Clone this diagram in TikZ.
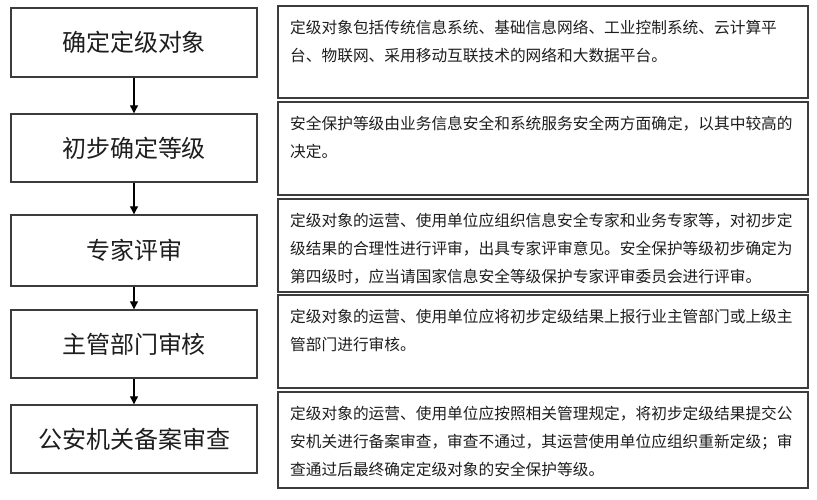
\documentclass[tikz,border=0pt]{standalone}
\usepackage{fontspec}
\newfontfamily\cjk{Noto Sans CJK SC}
\usetikzlibrary{arrows.meta}
\definecolor{boxline}{RGB}{60,60,60}
\definecolor{txt}{RGB}{30,30,30}
\begin{document}
\begin{tikzpicture}[x=1pt,y=-1pt,
  stepbox/.style={draw=boxline,line width=1.4pt,rectangle,minimum width=246pt,inner sep=0pt,
     font=\cjk\fontsize{24}{28}\selectfont,text=txt},
  descbox/.style={draw=boxline,line width=1.6pt,rectangle,minimum width=530pt,inner sep=0pt},
  desctext/.style={anchor=north west,inner sep=0pt,align=left,text=txt,
     font=\cjk\fontsize{15.7}{28}\selectfont},
  flow/.style={draw=black,line width=1.1pt,-{Triangle[width=8pt,length=8pt]}}]
\useasboundingbox (0,0) rectangle (817,500);
\fill[white] (0,0) rectangle (817,500);

% left steps
\node[stepbox,minimum height=69pt] (s1) at (134,42.5) {确定定级对象};
\node[stepbox,minimum height=68pt] (s2) at (134,148) {初步确定等级};
\node[stepbox,minimum height=71pt] (s3) at (134,250.5) {专家评审};
\node[stepbox,minimum height=68pt] (s4) at (134,344) {主管部门审核};
\node[stepbox,minimum height=68pt] (s5) at (134,439) {公安机关备案审查};

\draw[flow] (s1) -- (s2);
\draw[flow] (s2) -- (s3);
\draw[flow] (s3) -- (s4);
\draw[flow] (s4) -- (s5);

% right descriptions
\node[descbox,minimum height=92pt] (d1) at (543,52) {};
\node[descbox,minimum height=93pt] (d2) at (543,148.5) {};
\node[descbox,minimum height=93pt] (d3) at (543,245.5) {};
\node[descbox,minimum height=93pt] (d4) at (543,341.5) {};
\node[descbox,minimum height=96pt] (d5) at (543,440) {};

\node[desctext] (t1) at (290,20) {定级对象包括传统信息系统、基础信息网络、工业控制系统、云计算平\\台、物联网、采用移动互联技术的网络和大数据平台。};
\node[desctext] (t2) at (290,116) {安全保护等级由业务信息安全和系统服务安全两方面确定，以其中较高的\\决定。};
\node[desctext] (t3) at (290,213) {定级对象的运营、使用单位应组织信息安全专家和业务专家等，对初步定\\级结果的合理性进行评审，出具专家评审意见。安全保护等级初步确定为\\第四级时，应当请国家信息安全等级保护专家评审委员会进行评审。};
\node[desctext] (t4) at (290,309) {定级对象的运营、使用单位应将初步定级结果上报行业主管部门或上级主\\管部门进行审核。};
\node[desctext] (t5) at (290,406) {定级对象的运营、使用单位应按照相关管理规定，将初步定级结果提交公\\安机关进行备案审查，审查不通过，其运营使用单位应组织重新定级；审\\查通过后最终确定定级对象的安全保护等级。};
\end{tikzpicture}
\end{document}
